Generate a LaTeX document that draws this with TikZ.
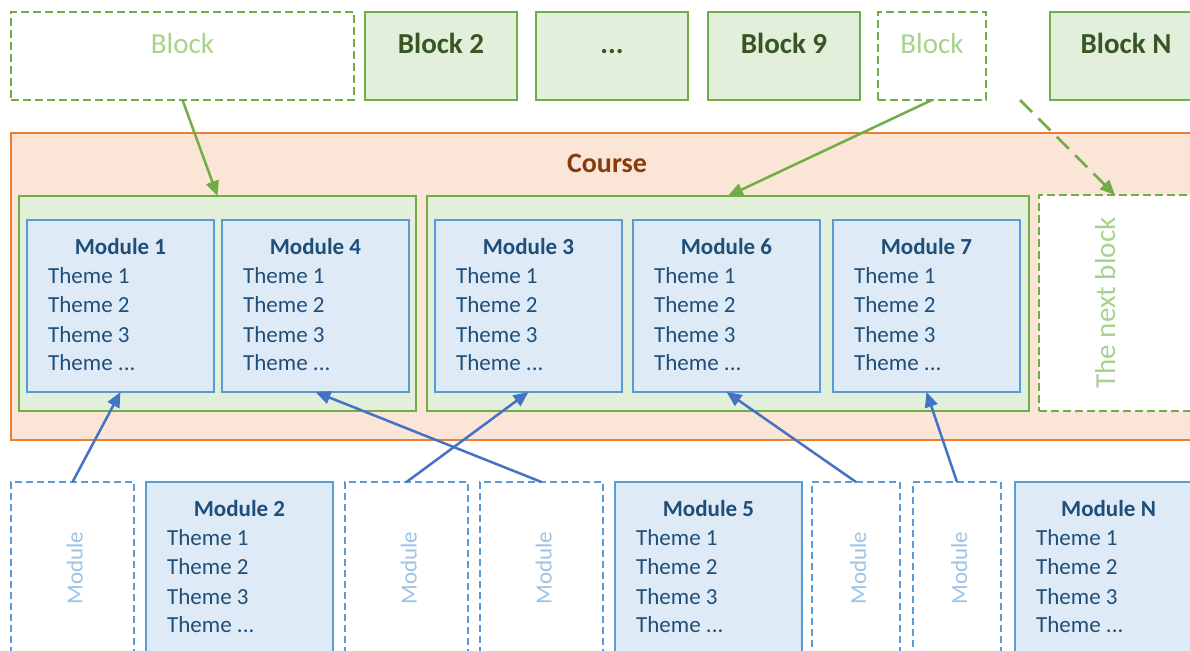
\documentclass[tikz,border=0pt]{standalone}
\usepackage{fontspec}
\setmainfont{Carlito}
\usetikzlibrary{arrows.meta,calc}
\definecolor{gborder}{HTML}{70AD47}
\definecolor{gfill}{HTML}{E2EFDA}
\definecolor{gtext}{HTML}{375623}
\definecolor{glight}{HTML}{A9D18E}
\definecolor{oborder}{HTML}{ED7D31}
\definecolor{ofill}{HTML}{FBE5D6}
\definecolor{otext}{HTML}{843C0C}
\definecolor{bborder}{HTML}{5B9BD5}
\definecolor{bfill}{HTML}{DEEBF7}
\definecolor{btext}{HTML}{1F4E79}
\definecolor{blight}{HTML}{9DC3E6}
\definecolor{barrow}{HTML}{4472C4}
\tikzset{
  boxbase/.style={inner sep=0pt, outer sep=0pt, anchor=north west},
  blk/.style={boxbase, draw=gborder, fill=gfill, line width=2.8pt},
  blkdash/.style={boxbase, draw=gborder, fill=white, line width=2.6pt, dash pattern=on 8pt off 4pt},
  blktext/.style={anchor=base, text=gtext, font=\fontsize{29pt}{34pt}\selectfont\bfseries},
  blklight/.style={anchor=base, text=glight, font=\fontsize{29pt}{34pt}\selectfont},
  course/.style={boxbase, draw=oborder, fill=ofill, line width=2.8pt},
  coursetext/.style={anchor=base, text=otext, font=\fontsize{28pt}{33pt}\selectfont\bfseries},
  grp/.style={boxbase, draw=gborder, fill=gfill, line width=2.8pt},
  modbox/.style={boxbase, draw=bborder, fill=bfill, line width=2.6pt},
  moddash/.style={boxbase, draw=bborder, fill=white, line width=2.4pt, dash pattern=on 7pt off 4pt},
  modtitle/.style={anchor=base, text=btext, font=\fontsize{23pt}{28pt}\selectfont\bfseries},
  theme/.style={anchor=base west, text=btext, font=\fontsize{23pt}{28pt}\selectfont, inner sep=0pt},
  modlight/.style={anchor=base, rotate=90, text=blight, font=\fontsize{23pt}{28pt}\selectfont},
  garrow/.style={draw=gborder, line width=2.5pt, -{Triangle[length=15pt,width=13pt]}},
  barrowst/.style={draw=barrow, line width=2.5pt, -{Triangle[length=15pt,width=13pt]}},
}
\newcommand{\mymod}[5]{%
  \node[modbox, minimum width=#4pt, minimum height=172pt] (#1) at (#2,#3) {};
  \node[modtitle] (#1t) at ($(#1.north)+(0,34)$) {#5};
  \node[theme] (#1a) at ($(#1.north west)+(21,63)$) {Theme 1};
  \node[theme] (#1b) at ($(#1.north west)+(21,92)$) {Theme 2};
  \node[theme] (#1c) at ($(#1.north west)+(21,122)$) {Theme 3};
  \node[theme] (#1d) at ($(#1.north west)+(21,150)$) {Theme ...};
}
\newcommand{\mydash}[3]{%
  \node[moddash, minimum width=#3pt, minimum height=172pt] (#1) at (#2,482) {};
  \node[modlight] (#1t) at ($(#1.center)+(10,0)$) {Module};
}
\begin{document}
\begin{tikzpicture}[x=1pt,y=-1pt]
\useasboundingbox (0,0) rectangle (1190,650);
\clip (0,0) rectangle (1190,650);
\fill[white] (0,0) rectangle (1190,650);

% top blocks
\node[blkdash, minimum width=343pt, minimum height=88pt] (b1) at (11,12) {};
\node[blklight] (b1t) at (182.5,54) {Block};
\node[blk, minimum width=152pt, minimum height=88pt] (b2) at (365,12) {};
\node[blktext] (b2t) at (441,54) {Block 2};
\node[blk, minimum width=152pt, minimum height=88pt] (b3) at (536,12) {};
\node[blktext] (b3t) at (612,54) {...};
\node[blk, minimum width=152pt, minimum height=88pt] (b9) at (708,12) {};
\node[blktext] (b9t) at (784,54) {Block 9};
\node[blkdash, minimum width=108pt, minimum height=88pt] (b5) at (878,12) {};
\node[blklight] (b5t) at (932,54) {Block};
\node[blk, minimum width=152pt, minimum height=88pt] (bN) at (1050,12) {};
\node[blktext] (bNt) at (1126,54) {Block N};

% course
\node[course, minimum width=1200pt, minimum height=307pt] (course) at (11,133) {};
\node[coursetext] (ct) at (607,172) {Course};

% groups
\node[grp, minimum width=397pt, minimum height=215pt] (g1) at (19,196) {};
\node[grp, minimum width=602pt, minimum height=215pt] (g2) at (427,196) {};
\node[blkdash, minimum width=152pt, minimum height=216pt] (nb) at (1039,195) {};
\node[anchor=base, rotate=90, text=glight, font=\fontsize{29pt}{34pt}\selectfont] (nbt) at (1115,303) {The next block};

% modules in course
\mymod{m1}{27}{220}{187}{Module 1}
\mymod{m4}{222}{220}{187}{Module 4}
\mymod{m3}{435}{220}{187}{Module 3}
\mymod{m6}{633}{220}{187}{Module 6}
\mymod{m7}{833}{220}{187}{Module 7}

% bottom row
\mydash{d1}{11}{123}
\mymod{m2}{146}{482}{187}{Module 2}
\mydash{d2}{345}{123}
\mydash{d3}{480}{123}
\mymod{m5}{615}{482}{187}{Module 5}
\mydash{d4}{812}{88}
\mydash{d5}{913}{88}
\mymod{mN}{1015}{482}{187}{Module N}

% green arrows
\draw[garrow] (b1.south) -- (g1.north);
\draw[garrow] (b5.south) -- (g2.north);
\coordinate (free) at (1020,100);
\draw[garrow, dash pattern=on 17pt off 9pt] (free) -- (nb.north);

% blue arrows
\draw[barrowst] (d1.north) -- (m1.south);
\draw[barrowst] (d2.north) -- (m3.south);
\draw[barrowst] (d3.north) -- (m4.south);
\draw[barrowst] (d4.north) -- (m6.south);
\draw[barrowst] (d5.north) -- (m7.south);
\end{tikzpicture}
\end{document}
